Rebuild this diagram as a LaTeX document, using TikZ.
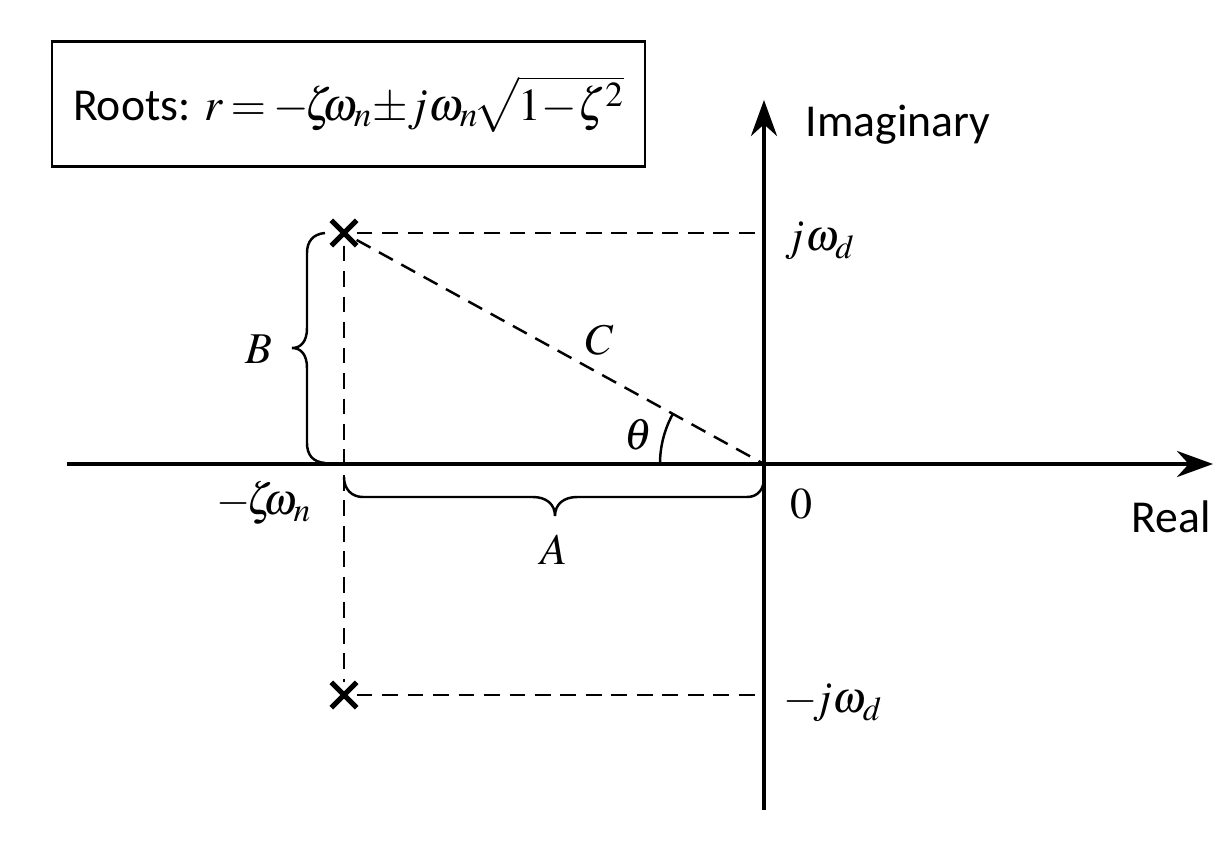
\documentclass[tikz,border=0pt]{standalone}
\usepackage{mathptmx}
\usepackage[no-math]{fontspec}
\setmainfont{Carlito}
\usepackage{tikz}
\usetikzlibrary{arrows.meta}
\usetikzlibrary{shapes.misc}

\DeclareMathSizes{26}{26}{20}{15}
\DeclareMathSizes{25}{25}{19}{15}

\tikzset{
  axisline/.style={line width=2.3pt, -{Stealth[length=0.72cm, width=0.52cm]}},
  guideline/.style={line width=1.4pt, dash pattern=on 9pt off 5.5pt},
  braceline/.style={line width=1.4pt},
  rootmark/.style={cross out, draw, line width=3pt, minimum size=0.4cm, inner sep=0pt},
  labeltext/.style={font=\fontsize{25}{30}\selectfont, inner sep=0pt},
  wordtext/.style={font=\fontsize{26}{30}\selectfont, inner sep=0pt}
}

\begin{document}
\begin{tikzpicture}
  \useasboundingbox (-15.28,-7.68) rectangle (9.34,9.28);

  \coordinate (origin) at (0,0);
  \coordinate (realend) at (8.98,0);
  \coordinate (realstart) at (-13.94,0);
  \coordinate (imagend) at (0,7.28);
  \coordinate (imagstart) at (0,-6.92);
  \coordinate (upperstop) at (0,4.62);
  \coordinate (lowerstop) at (0,-4.62);

  % Axes
  \draw[axisline] (realstart) -- (realend);
  \draw[axisline] (imagstart) -- (imagend);

  % Roots
  \node[rootmark] (upperroot) at (-8.4,4.62) {};
  \node[rootmark] (lowerroot) at (-8.4,-4.62) {};
  \draw[guideline] (upperroot) -- (upperstop);
  \draw[guideline] (lowerroot) -- (lowerstop);
  \draw[guideline] (upperroot) -- (lowerroot);
  \draw[guideline] (upperroot) -- (origin);

  % Braces
  \draw[braceline] (-8.78,4.62) .. controls (-9.02,4.6) and (-9.14,4.45) .. (-9.14,4.22)
    -- (-9.14,2.72) .. controls (-9.14,2.45) and (-9.26,2.32) .. (-9.44,2.32)
    .. controls (-9.26,2.32) and (-9.14,2.19) .. (-9.14,1.92)
    -- (-9.14,0.42) .. controls (-9.14,0.18) and (-9.02,0.04) .. (-8.78,0.02);
  \draw[braceline] (-8.4,-0.26) .. controls (-8.4,-0.5) and (-8.25,-0.66) .. (-8.02,-0.66)
    -- (-4.62,-0.66) .. controls (-4.36,-0.66) and (-4.18,-0.8) .. (-4.18,-1.04)
    .. controls (-4.18,-0.8) and (-4,-0.66) .. (-3.74,-0.66)
    -- (-0.34,-0.66) .. controls (-0.12,-0.66) and (0,-0.5) .. (0,-0.28);

  % Angle
  \draw[braceline] ([xshift=-2.08cm]origin) arc (180:151:2.08);

  % Labels
  \node[wordtext] (imaglabel) at (2.68,6.78) {Imaginary};
  \node[wordtext] (reallabel) at (8.14,-1.06) {Real};
  \node[labeltext] (upperlabel) at (1.12,4.46) {$j\omega_d$};
  \node[labeltext] (lowerlabel) at (1.38,-4.78) {$-\!j\omega_d$};
  \node[labeltext] (zerolabel) at (0.74,-0.8) {$0$};
  \node[labeltext] (realpart) at (-10,-0.78) {$-\!\zeta\!\!\omega_n$};
  \node[labeltext] (alabel) at (-4.2,-1.72) {$A$};
  \node[labeltext] (blabel) at (-10.1,2.3) {$B$};
  \node[labeltext] (clabel) at (-3.28,2.48) {$C$};
  \node[labeltext] (thetalabel) at (-2.52,0.58) {$\theta$};

  % Formula
  \node[draw, line width=1.4pt, minimum width=11.86cm, minimum height=2.5cm, inner sep=0pt,
    wordtext] (rootsbox) at (-8.31,7.2)
    {Roots: \thickmuskip=3mu\medmuskip=2mu$r=-\!\zeta\!\!\omega_n\!\pm\! j\omega_n\!\sqrt{1\!-\!\zeta^2}$};
\end{tikzpicture}
\end{document}
